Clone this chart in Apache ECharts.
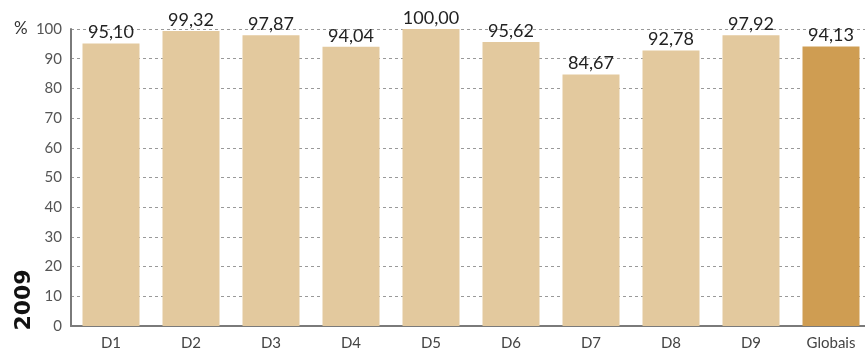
<!DOCTYPE html>
<html>
<head>
<meta charset="utf-8">
<script src="https://cdn.jsdelivr.net/npm/echarts@6/dist/echarts.min.js"></script>
<style>
  html, body { margin: 0; padding: 0; background: #fff; }
  #chart { width: 865px; height: 353px; }
</style>
</head>
<body>
<div id="chart"></div>
<script>
// Percentages per district, plus the overall figure
const categories = ['D1', 'D2', 'D3', 'D4', 'D5', 'D6', 'D7', 'D8', 'D9', 'Globais'];
const values = [95.10, 99.32, 97.87, 94.04, 100.00, 95.62, 84.67, 92.78, 97.92, 94.13];
const yearLabel = '2009';

const baseColor = '#E3C99E';
const totalColor = '#CF9D52';
const fontFamily = 'Lato, "DejaVu Sans", sans-serif';

const chart = echarts.init(document.getElementById('chart'), null, { renderer: 'canvas' });

chart.setOption({
  animation: false,
  grid: { left: 71, top: 29, width: 800, bottom: 27, outerBoundsMode: 'none', containLabel: false },
  xAxis: {
    type: 'category',
    data: categories,
    axisLine: { show: true, lineStyle: { color: '#7a7a7a', width: 2 } },
    axisTick: { show: false },
    axisLabel: { color: '#444', fontSize: 15, fontFamily: fontFamily, margin: 10 }
  },
  yAxis: {
    type: 'value',
    min: 0, max: 100, interval: 10,
    axisLine: { show: true, lineStyle: { color: '#7a7a7a', width: 2 } },
    axisTick: { show: false },
    axisLabel: { color: '#555', fontSize: 15, fontFamily: fontFamily, margin: 9 },
    splitLine: { show: true, lineStyle: { color: '#999', type: [3, 3], width: 1 } }
  },
  series: [{
    type: 'bar',
    data: values.map((v, i) => ({
      value: v,
      itemStyle: { color: categories[i] === 'Globais' ? totalColor : baseColor }
    })),
    barWidth: 57,
    label: {
      show: true,
      position: 'top',
      distance: 2,
      color: '#222',
      fontSize: 18,
      fontFamily: fontFamily,
      formatter: p => p.value.toFixed(2).replace('.', ',')
    }
  }],
  graphic: [
    {
      type: 'text', left: 14, top: 20,
      style: { text: '%', fill: '#333', fontSize: 17, fontFamily: fontFamily }
    },
    {
      type: 'text', x: 24, y: 300, rotation: Math.PI / 2,
      style: {
        text: yearLabel, fill: '#111', fontSize: 22, fontWeight: 'bold',
        fontFamily: '"DejaVu Sans", sans-serif', align: 'center', verticalAlign: 'middle'
      }
    }
  ]
});
</script>
</body>
</html>
